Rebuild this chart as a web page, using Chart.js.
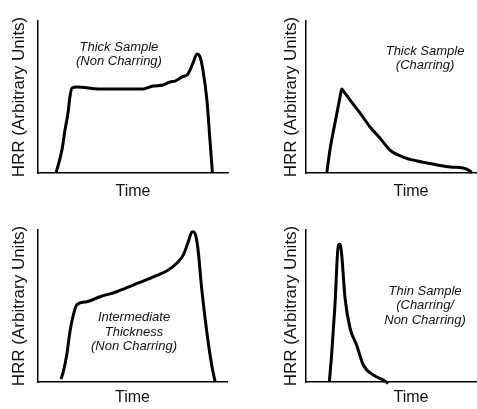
<!DOCTYPE html>
<html>
<head>
<meta charset="utf-8">
<script src="https://cdn.jsdelivr.net/npm/chart.js@4/dist/chart.umd.min.js"></script>
<style>
    html, body { margin: 0; padding: 0; background: #fff; overflow: hidden; width: 477px; height: 409px; }
    .panel { position: absolute; }
</style>
</head>
<body>
<div class="panel" style="left:0;top:0;"><canvas id="thickNonChar" width="240" height="205"></canvas></div>
<div class="panel" style="left:240px;top:0;"><canvas id="thickChar" width="276" height="205"></canvas></div>
<div class="panel" style="left:0;top:205px;"><canvas id="intermediate" width="240" height="204"></canvas></div>
<div class="panel" style="left:240px;top:205px;"><canvas id="thin" width="276" height="204"></canvas></div>
<script>
(function() {
    "use strict";

    // axis text
    var yTitle = "HRR (Arbitrary Units)";
    var xTitle = "Time";

    // thick sample, non charring
    var time1 = [9.5, 12.6, 14.2, 15.8, 16.8, 17.9, 20.5, 32.6, 55.3, 60.5, 65.8, 69.5, 72.1, 75.8, 78.9, 81.6, 83.7, 85.3, 86.8, 88.9, 90.5, 91.8];
    var hrr1 = [0, 15.1, 28.3, 39.5, 50.0, 55.9, 56.6, 55.3, 55.3, 57.2, 57.9, 59.9, 60.5, 63.2, 65.1, 72.4, 78.3, 76.3, 67.8, 48.0, 21.7, 0];
    var note1 = ["Thick Sample", "(Non Charring)"];

    // thick sample, charring
    var time2 = [9.9, 11.4, 13.8, 16.2, 17.0, 17.8, 21.0, 25.7, 30.5, 35.2, 40.0, 46.2, 52.9, 57.6, 62.4, 68.6, 74.8, 78.1, 79.0];
    var hrr2 = [0, 15.1, 32.9, 50.0, 55.3, 53.9, 48.0, 39.5, 30.3, 23.0, 15.1, 10.5, 7.9, 6.6, 5.3, 3.9, 3.3, 1.3, 0];
    var note2 = ["Thick Sample", "(Charring)"];

    // intermediate thickness, non charring
    var time3 = [12.2, 13.4, 15.2, 16.9, 18.7, 20.5, 25.8, 32.8, 41.6, 50.4, 59.3, 68.9, 73.4, 76.9, 79.5, 81.3, 82.2, 83.6, 84.8, 86.6, 89.3, 91.9, 93.7];
    var hrr3 = [2.0, 6.8, 17.8, 33.1, 44.1, 50.7, 52.8, 56.1, 59.4, 63.8, 68.2, 73.7, 78.1, 83.6, 92.3, 98.5, 98.9, 95.6, 85.7, 61.6, 33.1, 11.2, 0.2];
    var note3 = ["Intermediate", "Thickness", "(Non Charring)"];

    // thin sample
    var time4 = [11.1, 12.2, 13.8, 15.4, 16.2, 17.0, 18.6, 21.0, 24.1, 27.3, 32.1, 36.8, 39.2];
    var hrr4 = [0, 17.8, 50.7, 90.1, 90.6, 83.6, 55.1, 35.3, 24.3, 11.2, 4.6, 1.3, -0.9];
    var note4 = ["Thin Sample", "(Charring/", "Non Charring)"];

    var fontFamily = "'Liberation Sans', Arial, Helvetica, sans-serif";

    var notePlugin = {
        id: "note",
        afterDatasetsDraw: function(chart, args, opts) {
            var ctx = chart.ctx;
            var x = chart.scales.x.getPixelForValue(opts.x);
            var y = chart.scales.y.getPixelForValue(opts.y);
            ctx.save();
            ctx.font = "italic 13px " + fontFamily;
            ctx.fillStyle = "#111";
            ctx.textAlign = "center";
            ctx.textBaseline = "middle";
            opts.lines.forEach(function(line, i) {
                ctx.fillText(line, x, y + i * 14.5);
            });
            ctx.restore();
        }
    };

    function makeChart(id, times, values, note, cfg) {
        var points = times.map(function(t, i) {
            return { x: t, y: values[i] };
        });
        return new Chart(document.getElementById(id), {
            type: "line",
            data: {
                datasets: [{
                    data: points,
                    borderColor: "#000",
                    borderWidth: 3,
                    pointRadius: 0,
                    cubicInterpolationMode: "monotone",
                    clip: false,
                    fill: false
                }]
            },
            plugins: [notePlugin],
            options: {
                responsive: false,
                animation: false,
                events: [],
                layout: { padding: cfg.padding },
                plugins: {
                    legend: { display: false },
                    tooltip: { enabled: false },
                    note: { x: cfg.noteX, y: cfg.noteY, lines: note }
                },
                scales: {
                    x: {
                        type: "linear",
                        min: 0,
                        max: 100,
                        grid: { display: false, drawTicks: false, tickLength: 0 },
                        ticks: { display: false },
                        border: { display: true, color: "#000", width: 1.5 },
                        title: {
                            display: true,
                            text: xTitle,
                            color: "#111",
                            font: { family: fontFamily, size: 16, lineHeight: 1 },
                            padding: cfg.xPad
                        }
                    },
                    y: {
                        type: "linear",
                        min: 0,
                        max: 100,
                        grid: { display: false, drawTicks: false, tickLength: 0 },
                        ticks: { display: false },
                        border: { display: true, color: "#000", width: 1.5 },
                        title: {
                            display: true,
                            text: yTitle,
                            color: "#111",
                            font: { family: fontFamily, size: 17, lineHeight: 1 },
                            padding: cfg.yPad
                        }
                    }
                }
            }
        });
    }

    makeChart("thickNonChar", time1, hrr1, note1, {
        padding: { top: 21, right: 12, left: 0, bottom: 0 },
        xPad: { top: 11, bottom: 5 },
        yPad: { top: 10.5, bottom: 10.5 },
        noteX: 42.6, noteY: 82.9
    });
    makeChart("thickChar", time2, hrr2, note2, {
        padding: { top: 21, right: 0, left: 32, bottom: 0 },
        xPad: { top: 11, bottom: 5 },
        yPad: { top: 10.5, bottom: 6.5 },
        noteX: 56.7, noteY: 80.3
    });
    makeChart("intermediate", time3, hrr3, note3, {
        padding: { top: 25, right: 13, left: 0, bottom: 0 },
        xPad: { top: 8, bottom: 3 },
        yPad: { top: 10.5, bottom: 10.5 },
        noteX: 50.8, noteY: 42.3
    });
    makeChart("thin", time4, hrr4, note4, {
        padding: { top: 25, right: 0, left: 32, bottom: 0 },
        xPad: { top: 8, bottom: 3 },
        yPad: { top: 10.5, bottom: 6.5 },
        noteX: 56.7, noteY: 59.9
    });
})();
</script>
</body>
</html>
